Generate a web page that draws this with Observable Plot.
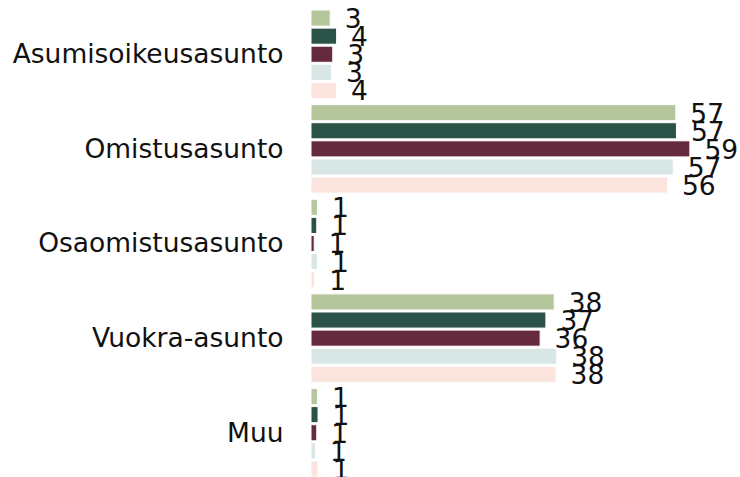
<!DOCTYPE html>
<html><head><meta charset="utf-8">
<script src="https://cdn.jsdelivr.net/npm/d3@7"></script>
<script src="https://cdn.jsdelivr.net/npm/@observablehq/plot@0.6"></script>
<style>body{margin:0;background:#fff;}</style>
</head><body><div id="chart"></div>
<script>
const categories = ["Asumisoikeusasunto", "Omistusasunto", "Osaomistusasunto", "Vuokra-asunto", "Muu"];
const series = ["Sarja 1", "Sarja 2", "Sarja 3", "Sarja 4", "Sarja 5"];
const colors = ["#b5c59c", "#2a5247", "#662a3e", "#d8e6e6", "#fbe3de"];
const s1 = [3.0, 57.0, 1.0, 38.0, 1.0];
const s2 = [4.0, 57.1, 0.9, 36.7, 1.1];
const s3 = [3.4, 59.2, 0.5, 35.8, 0.9];
const s4 = [3.2, 56.6, 1.0, 38.4, 0.7];
const s5 = [4.0, 55.7, 0.6, 38.3, 1.1];
const seriesValues = [s1, s2, s3, s4, s5];

const rows = [];
categories.forEach((c, i) => series.forEach((s, j) => rows.push({cat: c, ser: s, value: seriesValues[j][i]})));

const chart = Plot.plot({
  width: 740,
  height: 477,
  marginTop: 10,
  marginBottom: 0,
  marginLeft: 311,
  marginRight: 45,
  style: {fontFamily: "DejaVu Sans", fontSize: "26.5px", color: "#111", background: "white"},
  facet: {data: rows, y: "cat"},
  fy: {domain: categories, label: null, axis: "left", tickSize: 0, tickPadding: 28, paddingInner: 0.065, paddingOuter: 0, round: false},
  y: {domain: series, axis: null, paddingInner: 0.11, paddingOuter: 0, round: false},
  x: {domain: [0, 60], axis: null},
  color: {domain: series, range: colors},
  marks: [
    Plot.barX(rows, {x: "value", y: "ser", fill: "ser", stroke: "white", strokeWidth: 1}),
    Plot.text(rows, {x: "value", y: "ser", text: d => String(Math.round(d.value)), textAnchor: "start", dx: 14, dy: 1, fontSize: 26.5, fill: "#111"})
  ]
});
document.getElementById("chart").appendChild(chart);
</script>
</body></html>
